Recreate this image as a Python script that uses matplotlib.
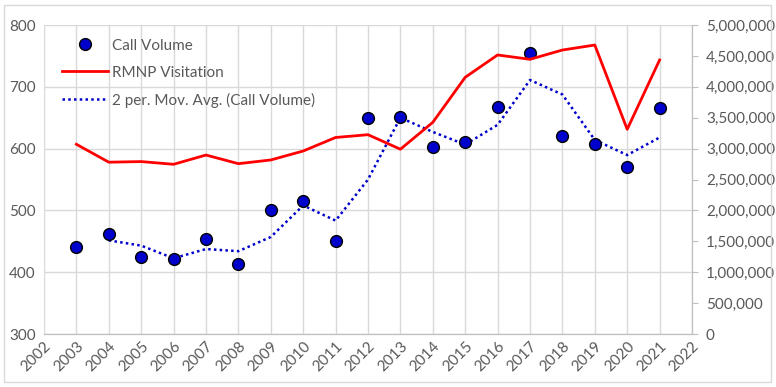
import matplotlib
matplotlib.use("Agg")
import matplotlib.pyplot as plt
import numpy as np
import pandas as pd
from matplotlib.patches import Rectangle
from matplotlib.ticker import FuncFormatter, MultipleLocator

plt.rcParams['font.family'] = ['Lato', 'DejaVu Sans']

years = list(range(2003, 2022))
call_volume = [441, 462, 424, 421, 454, 414, 500, 516, 451, 649, 651,
               603, 610, 667, 755, 620, 608, 571, 665]
visitation = [3070000, 2780000, 2790000, 2746000, 2896000, 2756000, 2816000,
              2961000, 3180000, 3225000, 2990000, 3425000, 4154000, 4515000,
              4445000, 4595000, 4676000, 3312000, 4434000]
moving_avg = pd.Series(call_volume).rolling(2).mean().tolist()
x_ticks = list(range(2002, 2023))

gray_txt = '#595959'
grid_c = '#d9d9d9'

fig = plt.figure(figsize=(7.76, 3.87), dpi=100)
ax = fig.add_axes([44/776, 1-334/387, (692-44)/776, (334-25)/387])
ax2 = ax.twinx()

mv, = ax.plot(years, moving_avg, linestyle=(0, (1, 1.3)), color='#0000CC',
              lw=1.8, zorder=2)
sc, = ax.plot(years, call_volume, 'o', markersize=8.5, markerfacecolor='#0000CC',
              markeredgecolor='black', markeredgewidth=1.0, zorder=3)
rl, = ax2.plot(years, visitation, color='#FF0000', lw=2.0)

ax.set_xlim(2002, 2022)
ax.set_ylim(300, 800)
ax2.set_ylim(0, 5000000)
ax.set_xticks(x_ticks)
ax.set_xticklabels([str(y) for y in x_ticks], rotation=45, ha='right',
                   rotation_mode='anchor', fontsize=11, color=gray_txt)
ax.yaxis.set_major_locator(MultipleLocator(100))
ax2.yaxis.set_major_locator(MultipleLocator(500000))
ax2.yaxis.set_major_formatter(FuncFormatter(lambda v, p: f"{int(v):,}"))

ax.grid(True, color=grid_c, lw=1.0)
ax.set_axisbelow(True)
ax.tick_params(axis='y', length=0, labelsize=11, labelcolor=gray_txt, pad=6)
ax.tick_params(axis='x', length=0, pad=4)
ax2.tick_params(axis='y', length=4, color='#bfbfbf', labelsize=11,
                labelcolor=gray_txt, pad=6)
for a in (ax, ax2):
    for s in ('top', 'left'):
        a.spines[s].set_visible(False)
    a.spines['bottom'].set_color('#bfbfbf')
    a.spines['right'].set_color('#bfbfbf')

leg = ax2.legend([sc, rl, mv],
                 ['Call Volume', 'RMNP Visitation', '2 per. Mov. Avg. (Call Volume)'],
                 loc='upper left', bbox_to_anchor=(0.007, 1.0), frameon=False,
                 fontsize=11, handlelength=3.0, labelspacing=0.85,
                 handletextpad=0.25, borderaxespad=0.5)
for t in leg.get_texts():
    t.set_color(gray_txt)

fig.patches.append(Rectangle((4/776, 5/387), 767/776, 377/387, transform=fig.transFigure,
                             fill=False, edgecolor=grid_c, lw=1.0))

fig.savefig('out.png', dpi=100)
